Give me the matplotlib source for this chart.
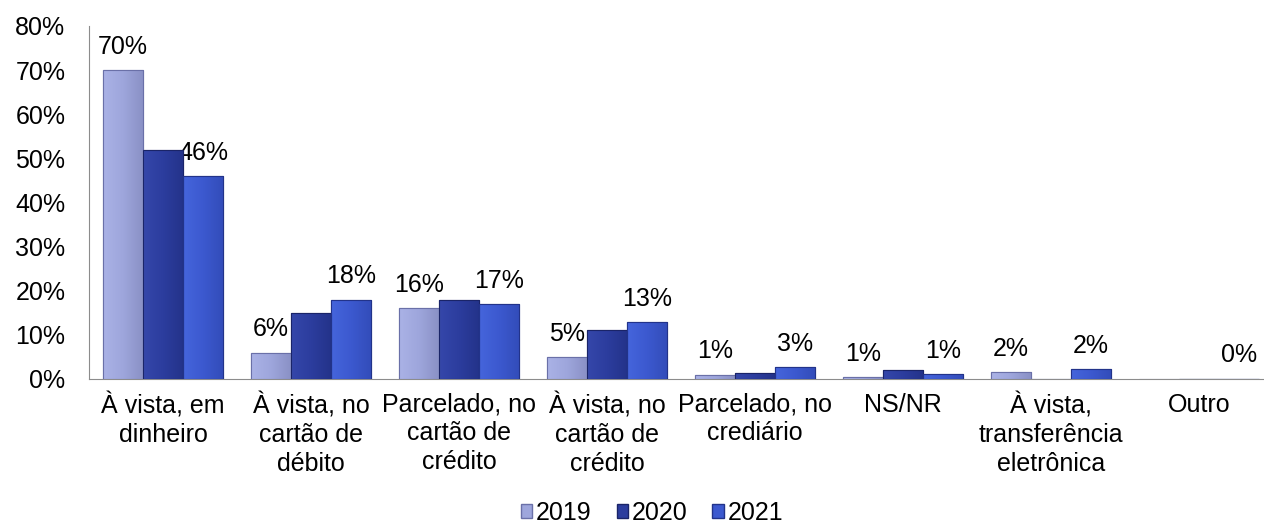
import numpy as np
import matplotlib
matplotlib.use("Agg")
from matplotlib import pyplot as plt
from matplotlib.patches import Patch
from matplotlib.colors import LinearSegmentedColormap

plt.rcParams['font.family'] = ['Liberation Sans', 'DejaVu Sans']

categories = ["À vista, em\ndinheiro", "À vista, no\ncartão de\ndébito",
              "Parcelado, no\ncartão de\ncrédito", "À vista, no\ncartão de\ncrédito",
              "Parcelado, no\ncrediário", "NS/NR",
              "À vista,\ntransferência\neletrônica", "Outro"]
years = ["2019", "2020", "2021"]
v2019 = [70, 6, 16, 5, 1, 0.5, 1.6, 0]
v2020 = [52, 15, 18, 11, 1.4, 2, 0, 0.1]
v2021 = [46, 18, 17, 13, 2.7, 1.1, 2.2, 0.1]
lab2019 = ["70%", "6%", "16%", "5%", "1%", "1%", "2%", ""]
lab2021 = ["46%", "18%", "17%", "13%", "3%", "1%", "2%", "0%"]

colors = ["#9ea6dc", "#2c3d9e", "#3c59cf"]
# left -> right shading of each bar
shades = [["#aab2e6", "#9ea6dc", "#8a91c6"],
          ["#3547aa", "#2c3d9e", "#24338a"],
          ["#4565dc", "#3c59cf", "#334dba"]]
edges = ["#6a70a8", "#1a2468", "#22338a"]

FS = 18

fig = plt.figure(figsize=(12.64, 5.24), dpi=100)
left, right, top, bottom = 89, 1264, 26, 379
ax = fig.add_axes([left / 1264, 1 - bottom / 524, (right - left) / 1264, (bottom - top) / 524])

x = np.arange(len(categories))
w = 0.27
series = [v2019, v2020, v2021]
grad = np.linspace(0, 1, 64).reshape(1, -1)
for i, vals in enumerate(series):
    bars = ax.bar(x + (i - 1) * w, vals, w, color=colors[i], edgecolor=edges[i],
                  linewidth=0.8, zorder=3)
    cmap = LinearSegmentedColormap.from_list("s%d" % i, shades[i])
    for b in bars:
        bx, bw, bh = b.get_x(), b.get_width(), b.get_height()
        if bh <= 0:
            continue
        im = ax.imshow(grad, cmap=cmap, aspect="auto", extent=(bx, bx + bw, 0, bh),
                       zorder=3.1, interpolation="bilinear")
        im.set_clip_path(b)
        # thin edge on top of the gradient
        ax.bar(bx + bw / 2, bh, bw, fill=False, edgecolor=edges[i], linewidth=0.8, zorder=3.2)

# value labels (only 2019 and 2021 are labelled in the original)
for xi, v, t in zip(x, v2019, lab2019):
    if t:
        ax.annotate(t, (xi - w, v), xytext=(0, 8), textcoords="offset points",
                    ha="center", va="bottom", fontsize=FS)
for xi, v, t in zip(x, v2021, lab2021):
    if t:
        ax.annotate(t, (xi + w, v), xytext=(0, 8), textcoords="offset points",
                    ha="center", va="bottom", fontsize=FS)

ax.set_ylim(0, 80)
ax.set_xlim(-0.5, -0.5 + (right - left) / 148)
ax.set_yticks(range(0, 81, 10))
ax.set_yticklabels([f"{t}%" for t in range(0, 81, 10)])
ax.set_xticks(x)
ax.set_xticklabels(categories, linespacing=1.24)
ax.tick_params(axis="y", length=0, pad=17, labelsize=FS)
ax.tick_params(axis="x", length=0, pad=10, labelsize=FS)

for s in ["top", "right"]:
    ax.spines[s].set_visible(False)
ax.spines["left"].set_color("#8c8c8c")
ax.spines["bottom"].set_color("#8c8c8c")

handles = [Patch(facecolor=colors[i], edgecolor=edges[i], label=years[i]) for i in range(3)]
fig.legend(handles=handles, loc="center", bbox_to_anchor=(652 / 1264, 1 - 513 / 524),
           ncol=3, frameon=False, fontsize=FS, handlelength=0.45, handleheight=0.45,
           handletextpad=0.15, columnspacing=1.0)

fig.savefig("out.png", dpi=100)
